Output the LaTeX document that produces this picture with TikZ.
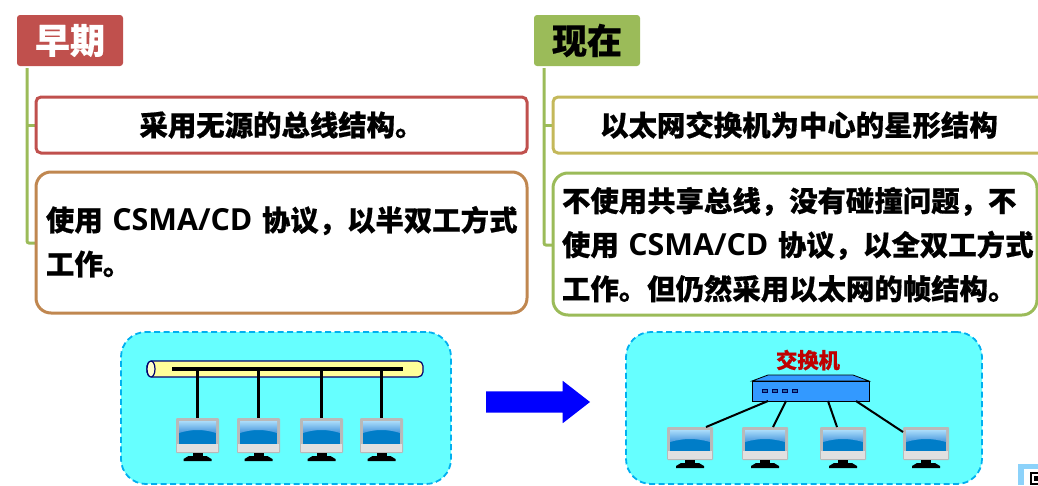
\documentclass[tikz,border=0pt]{standalone}
\usepackage{fontspec}
\setmainfont[BoldFeatures={FakeBold=0.6}]{Noto Sans CJK SC}
\newfontfamily\latinfont{Open Sans}
\usetikzlibrary{shapes.arrows}
\definecolor{myred}{RGB}{192,80,77}
\definecolor{mygreen}{RGB}{155,187,89}
\definecolor{myolive}{RGB}{196,184,90}
\definecolor{myorange}{RGB}{192,135,80}
\definecolor{mycyan}{RGB}{102,255,255}
\definecolor{mydash}{RGB}{0,176,240}
\definecolor{myyellow}{RGB}{255,255,153}
\definecolor{mynavy}{RGB}{0,0,110}
\definecolor{myswitch}{RGB}{51,153,255}
\definecolor{myscreen}{RGB}{0,125,200}
\definecolor{myglasstop}{RGB}{170,220,250}
\definecolor{myglass}{RGB}{70,150,220}
\definecolor{myframe}{RGB}{185,185,185}
\definecolor{mycorner}{RGB}{140,210,250}
\newcommand{\bodysize}{\fontsize{28.4}{44}\selectfont\bfseries}
\newcommand{\proto}{{\latinfont\fontsize{30.4}{44}\selectfont\bfseries CSMA/CD}}
\tikzset{
    common/.style={anchor=north west, rectangle, inner sep=0pt, outer sep=0pt},
    title/.style={common, minimum width=106pt, minimum height=51pt, rounded corners=3pt,
        font=\fontsize{35}{35}\selectfont\bfseries},
    box/.style={common, draw, line width=3pt, fill=white, font=\bodysize},
    branch/.style={line width=3pt, mygreen, rounded corners=2pt},
    panel/.style={common, draw=mydash, line width=1.8pt, dash pattern=on 6pt off 3.5pt, fill=mycyan, rounded corners=25pt},
    link/.style={draw, line width=2pt},
    drop/.style={draw, line width=2.8pt},
}
% monitor: name, left x, top y, width, height of the frame
\newcommand{\monitor}[5]{
    \node[common, fill=myframe, minimum width=#4pt, minimum height=#5pt, rounded corners=1pt] (#1) at (#2,#3) {};
    \fill[white!88!black] (#2+1,#3+#5-9) rectangle (#2+#4-1,#3+#5-1);
    \fill[myscreen] (#2+3,#3+3) rectangle (#2+#4-3,#3+#5-9);
    \shade[top color=myglasstop, bottom color=myglass] (#2+3,#3+3) -- (#2+#4-3,#3+3) -- (#2+#4-3,#3+15)
        .. controls (#2+#4/2+6,#3+11) and (#2+#4/2-6,#3+11) .. (#2+3,#3+15) -- cycle;
    \fill[black] (#2+#4/2-5,#3+#5) rectangle (#2+#4/2+5,#3+#5+4);
    \fill[black] (#2+#4/2-14,#3+#5+8) -- (#2+#4/2-14,#3+#5+6) -- (#2+#4/2-9,#3+#5+3) -- (#2+#4/2+9,#3+#5+3)
        -- (#2+#4/2+14,#3+#5+6) -- (#2+#4/2+14,#3+#5+8) -- cycle;
}
\begin{document}
\begin{tikzpicture}[x=1pt, y=-1pt]
    \useasboundingbox (0,0) rectangle (1038,485);

    % early
    \draw[branch] (27,68) -- (27,243) -- (37,243);
    \draw[branch] (27,125) -- (37,125);
    \node[title, fill=myred, text=white] (early) at (17,15) {早期};
    \node[box, draw=myred, minimum width=491pt, minimum height=56pt, rounded corners=5pt] (early1) at (36,97) {采用无源的总线结构。};
    \node[box, draw=myorange, minimum width=491pt, minimum height=141pt, rounded corners=15pt] (early2) at (36,172) {};
    \node[common, text width=478pt, align=left, font=\bodysize] (early2text) at (46,206) {使用 \proto{} 协议，以半双工方式\\工作。};

    % now
    \draw[branch] (544,68) -- (544,245) -- (554,245);
    \draw[branch] (544,125) -- (554,125);
    \node[title, fill=mygreen] (now) at (534,15) {现在};
    \node[box, draw=myolive, minimum width=496pt, minimum height=56pt, rounded corners=5pt] (now1) at (553,97) {};
    \node[common, anchor=center, font=\bodysize] (now1text) at (799,125) {以太网交换机为中心的星形结构};
    \node[box, draw=mygreen, minimum width=484pt, minimum height=142pt, rounded corners=15pt] (now2) at (553,173) {};
    \node[common, text width=480pt, align=left, font=\bodysize] (now2text) at (562,187) {不使用共享总线，没有碰撞问题，不\\使用 \proto{} 协议，以全双工方式\\工作。但仍然采用以太网的帧结构。};

    % bus panel
    \node[panel, minimum width=330pt, minimum height=152pt] (busarea) at (121,332) {};
    \node[common, draw=mynavy, line width=1.2pt, fill=myyellow, rounded corners=5pt,
        minimum width=276pt, minimum height=16pt] (bus) at (147,361) {};
    \draw[mynavy, line width=1.2pt, fill=myyellow!50!white] (151,369) ellipse (4pt and 8pt);
    \monitor{pcA}{176}{418}{43}{35}
    \monitor{pcB}{237}{418}{43}{35}
    \monitor{pcC}{300}{418}{43}{35}
    \monitor{pcD}{360}{418}{43}{35}
    \coordinate (busleft) at (172,369);
    \coordinate (busright) at (403,369);
    \draw[drop, line width=3.5pt] (busleft) -- (busright);
    \foreach \pc in {pcA,pcB,pcC,pcD}
        \draw[drop] (\pc.north |- busleft) -- (\pc.north);

    % arrow
    \node[single arrow, anchor=west, fill=blue, inner xsep=0pt, inner ysep=10.5pt, outer sep=0pt, minimum height=104pt,
        single arrow head extend=10.5pt, single arrow head indent=0pt, single arrow tip angle=75.7] (change) at (486,402) {};

    % switch panel
    \node[panel, minimum width=356pt, minimum height=152pt] (stararea) at (626,332) {};
    \node[common, anchor=center, text=red!75!black, font=\fontsize{21.3}{21}\selectfont\bfseries] (swlabel) at (808,360) {交换机};
    \draw[fill=myswitch, line width=.8pt] (752,381) -- (768,375) -- (853,375) -- (869,381) -- cycle;
    \node[common, draw, fill=myswitch, line width=.8pt, minimum width=117pt, minimum height=20pt] (switch) at (752,381) {};
    \foreach \portx in {762,772,782,792}
        \draw[black!70!blue, fill=myswitch!70!black, line width=.8pt] (\portx,389) rectangle ++(5,3);
    \monitor{pcE}{667}{427}{46}{33}
    \monitor{pcF}{742}{427}{46}{33}
    \monitor{pcG}{820}{427}{46}{33}
    \monitor{pcH}{903}{427}{46}{33}
    \draw[link] (768,401) -- (706,427);
    \draw[link] (786,401) -- (773,427);
    \draw[link] (828,401) -- (837,427);
    \draw[link] (856,401) -- (903,432);

    % corner mark
    \node[common, fill=mycorner, minimum width=20pt, minimum height=21pt] (corner) at (1018,464) {};
    \fill[white] (1024,469) rectangle (1038,485);
    \draw[black, line width=1.5pt] (1031,473) rectangle (1039,484);
    \fill[black] (1034,476) rectangle (1038,481);
\end{tikzpicture}
\end{document}
